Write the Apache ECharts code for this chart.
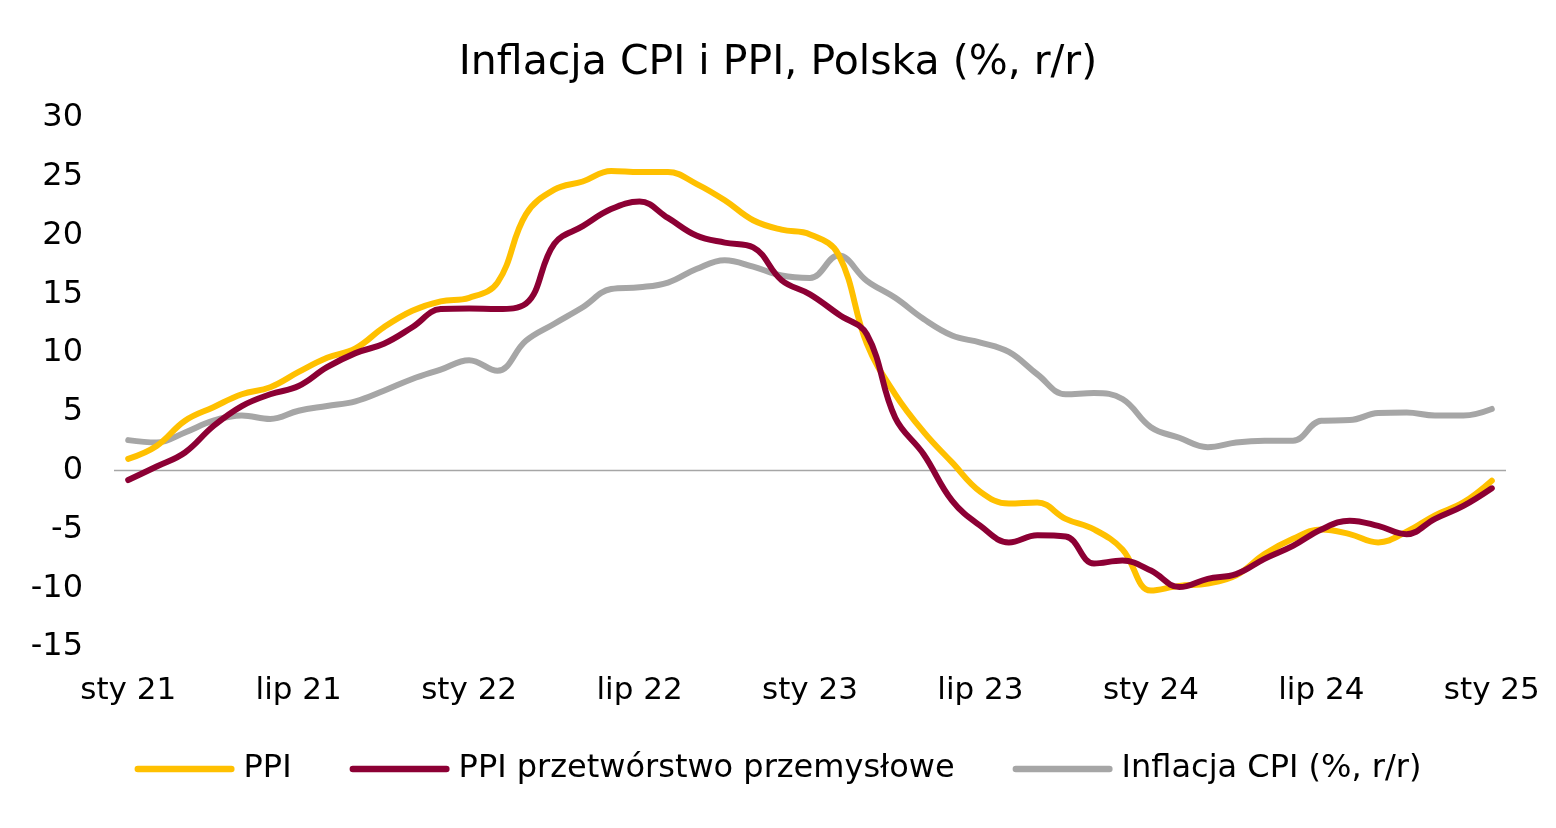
<!DOCTYPE html>
<html>
<head>
<meta charset="utf-8">
<script src="https://cdn.jsdelivr.net/npm/echarts@6/dist/echarts.min.js"></script>
<style>
html,body{margin:0;padding:0;background:#fff;}
#chart{width:1556px;height:828px;}
</style>
</head>
<body>
<div id="chart"></div>
<script>
const months = ['sty','lut','mar','kwi','maj','cze','lip','sie','wrz','paź','lis','gru'];
const categories = [];
for (let y = 21; y <= 25; y++) {
  for (let m = 0; m < 12; m++) {
    if (y === 25 && m > 0) break;
    categories.push(months[m] + ' ' + y);
  }
}
const ppi = [1.0, 2.1, 4.25, 5.4, 6.5, 7.1, 8.4, 9.6, 10.4, 12.2, 13.6, 14.4,
  14.7, 16.0, 21.8, 23.9, 24.6, 25.5, 25.4, 25.4, 24.4, 23.0, 21.3, 20.5,
  20.1, 18.4, 10.8, 6.5, 3.3, 0.7, -1.8, -2.8, -2.7, -4.1, -5.0, -6.7,
  -10.2, -9.8, -9.6, -8.9, -7.1, -5.8, -5.0, -5.4, -6.1, -5.2, -3.8, -2.7,
  -0.85];
const ppiManuf = [-0.8, 0.35, 1.55, 3.8, 5.5, 6.5, 7.2, 8.8, 10.0, 10.8, 12.2, 13.75,
  13.8, 13.75, 14.2, 19.3, 20.8, 22.25, 22.9, 21.5, 20.0, 19.4, 19.0, 16.2,
  15.0, 13.3, 11.6, 4.5, 1.4, -2.55, -4.7, -6.1, -5.5, -5.6, -7.9, -7.65,
  -8.5, -9.9, -9.2, -8.8, -7.5, -6.4, -5.0, -4.25, -4.7, -5.4, -4.1, -3.0,
  -1.5];
const cpi = [2.6, 2.4, 3.25, 4.25, 4.7, 4.4, 5.1, 5.5, 5.9, 6.8, 7.8, 8.6,
  9.4, 8.5, 11.05, 12.5, 13.9, 15.45, 15.6, 16.0, 17.15, 17.9, 17.35, 16.6,
  16.4, 18.3, 16.15, 14.7, 12.9, 11.5, 10.9, 10.1, 8.2, 6.5, 6.6, 6.1,
  3.7, 2.8, 2.0, 2.4, 2.55, 2.55, 4.25, 4.3, 4.9, 4.95, 4.7, 4.7,
  5.25];
const seriesNames = ['PPI', 'PPI przetwórstwo przemysłowe', 'Inflacja CPI (%, r/r)'];
const colors = ['#FFC000', '#8C0034', '#A6A6A6'];
const yTicks = {min: -15, max: 30, interval: 5};

const FONT = '"DejaVu Sans", Verdana, sans-serif';
const CAPSULE = 'path://M3,0 L90,0 A3,3 0 0 1 90,6 L3,6 A3,3 0 0 1 3,0 Z';
const chart = echarts.init(document.getElementById('chart'));
const mk = (name, data, color) => ({
  name, type: 'line', data, smooth: 0.4, symbol: 'none',
  lineStyle: {color, width: 6, cap: 'round'}, itemStyle: {color},
  z: 3
});
const series = [
  mk(seriesNames[0], ppi, colors[0]),
  mk(seriesNames[1], ppiManuf, colors[1]),
  mk(seriesNames[2], cpi, colors[2])
];
series[2].z = 2;
series[0].markLine = {
  silent: true, symbol: 'none', label: {show: false},
  lineStyle: {color: '#A6A6A6', width: 1.3, type: 'solid'},
  data: [{yAxis: 0}], z: 1
};
chart.setOption({
  animation: false,
  backgroundColor: '#fff',
  title: {
    text: 'Inflacja CPI i PPI, Polska (%, r/r)',
    left: 'center', top: 38,
    textStyle: {fontFamily: FONT, fontSize: 41, fontWeight: 'normal', color: '#000'}
  },
  legend: {
    data: seriesNames,
    bottom: 38, left: 'center',
    icon: CAPSULE,
    itemWidth: 100, itemHeight: 7, itemGap: 58,
    textStyle: {fontFamily: FONT, fontSize: 32, color: '#000', padding: [0, 0, 0, 4]}
  },
  grid: {left: 114, right: 50, top: 118, bottom: 181, containLabel: false},
  xAxis: {
    type: 'category', data: categories, boundaryGap: true,
    axisLine: {show: false}, axisTick: {show: false},
    axisLabel: {
      interval: 5, margin: 28, color: '#000',
      fontFamily: FONT, fontSize: 31
    },
    splitLine: {show: false}
  },
  yAxis: {
    type: 'value', min: yTicks.min, max: yTicks.max, interval: yTicks.interval,
    axisLine: {show: false}, axisTick: {show: false},
    splitLine: {show: false},
    axisLabel: {margin: 31, color: '#000', fontFamily: FONT, fontSize: 32, padding: [4, 0, 0, 0]}
  },
  series
});
</script>
</body>
</html>
